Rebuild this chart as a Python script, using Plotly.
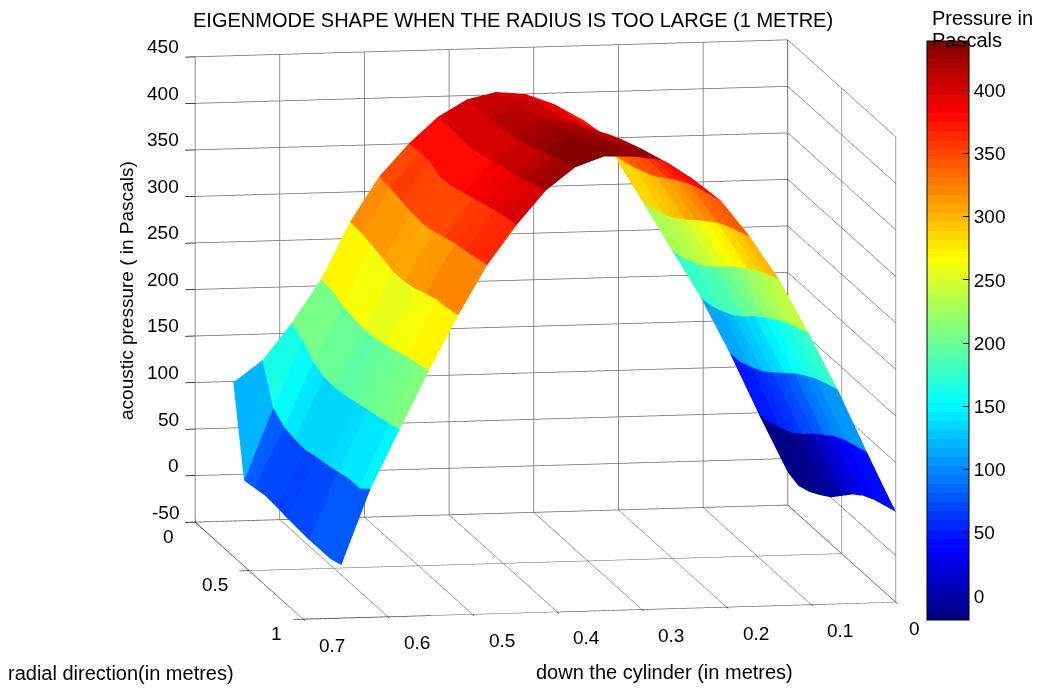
import math
import plotly.graph_objects as go

title_text = "EIGENMODE SHAPE WHEN THE RADIUS IS TOO LARGE (1 METRE)"
x_label = "down the cylinder (in metres)"
y_label = "radial direction(in metres)"
z_label = "acoustic pressure ( in Pascals)"
bar_label_lines = ["Pressure in", "Pascals"]

x_ticks = [0, 0.1, 0.2, 0.3, 0.4, 0.5, 0.6, 0.7]
y_ticks = [0, 0.5, 1]
z_ticks = [-50, 0, 50, 100, 150, 200, 250, 300, 350, 400, 450]
bar_ticks = [0, 50, 100, 150, 200, 250, 300, 350, 400]

down_cylinder = [0.655, 0.6205, 0.586, 0.5515, 0.517, 0.4825, 0.448, 0.4135, 0.379, 0.3445,
                 0.31, 0.2755, 0.241, 0.2065, 0.172, 0.1375, 0.103, 0.0685, 0.034, 0.0]
radial = [0, 0.1, 0.2, 0.3, 0.4, 0.5, 0.6, 0.7, 0.8, 0.9, 1.0]

# one row per down_cylinder position, one value per radial position
pressure = [
    [99, 4, 6, 8, 7, 5, 4, 3, 3, 3, 7],
    [122, 81, 71, 68, 67, 70, 72, 75, 78, 78, 88],
    [161, 153, 140, 134, 133, 135, 138, 141, 144, 147, 151],
    [207, 206, 200, 197, 195, 196, 199, 203, 207, 210, 213],
    [268, 267, 264, 260, 256, 256, 259, 264, 268, 269, 272],
    [316, 314, 311, 308, 307, 309, 313, 317, 319, 322, 325],
    [350, 352, 351, 345, 346, 350, 354, 358, 362, 365, 367],
    [378, 379, 377, 377, 379, 383, 387, 390, 394, 399, 403],
    [396, 397, 396, 397, 400, 403, 408, 413, 418, 423, 427],
    [403, 408, 410, 412, 417, 423, 427, 431, 434, 436, 438],
    [400, 403, 405, 408, 412, 418, 423, 428, 431, 434, 437],
    [388, 391, 393, 396, 401, 408, 414, 419, 424, 428, 432],
    [370, 372, 375, 379, 384, 391, 397, 402, 406, 409, 412],
    [333, 335, 339, 344, 350, 359, 367, 374, 379, 383, 387],
    [281, 283, 288, 294, 303, 313, 322, 331, 337, 342, 347],
    [228, 230, 236, 242, 251, 262, 272, 281, 289, 295, 300],
    [176, 177, 182, 188, 197, 208, 217, 225, 232, 237, 242],
    [115, 116, 121, 127, 136, 146, 156, 164, 171, 176, 180],
    [48, 50, 55, 60, 69, 80, 89, 98, 104, 108, 112],
    [-15, -19, -15, -8, 0, 12, 24, 33, 39, 43, 47],
]

bar_min, bar_max = -19, 439


def jet(f):
    r = min(max(min(4 * f - 1.5, -4 * f + 4.5), 0), 1)
    g = min(max(min(4 * f - 0.5, -4 * f + 3.5), 0), 1)
    b = min(max(min(4 * f + 0.5, -4 * f + 2.5), 0), 1)
    return "rgb(%d,%d,%d)" % (round(r * 255), round(g * 255), round(b * 255))


levels = 64
colorscale = []
for n in range(levels):
    c = jet((n + 0.5) / levels)
    colorscale.append([n / levels, c])
    colorscale.append([(n + 1) / levels, c])

nx, ny = len(down_cylinder), len(radial)
vx, vy, vz = [], [], []
for a in range(nx):
    for b in range(ny):
        vx.append(down_cylinder[a])
        vy.append(radial[b])
        vz.append(pressure[a][b])

ti, tj, tk, cell = [], [], [], []
for a in range(nx - 1):
    for b in range(ny - 1):
        p0 = a * ny + b
        p1 = a * ny + b + 1
        p2 = (a + 1) * ny + b
        p3 = (a + 1) * ny + b + 1
        ti += [p0, p1]
        tj += [p1, p3]
        tk += [p2, p2]
        cell += [pressure[a + 1][b], pressure[a + 1][b]]

FONT = "Liberation Sans"
BIG = dict(family=FONT, size=19, color="black")
LAB = dict(family=FONT, size=20, color="black")
fig = go.Figure(go.Mesh3d(
    x=vx, y=vy, z=vz, i=ti, j=tj, k=tk,
    intensity=cell, intensitymode="cell",
    colorscale=colorscale, cmin=bar_min, cmax=bar_max,
    flatshading=True,
    lighting=dict(ambient=1, diffuse=0, specular=0, fresnel=0, roughness=1),
    hoverinfo="skip",
    colorbar=dict(
        x=927 / 1041, xanchor="left", xpad=0,
        y=1 - 330.5 / 689, yanchor="middle", ypad=0,
        lenmode="pixels", len=579, thicknessmode="pixels", thickness=42,
        outlinecolor="black", outlinewidth=1,
        ticks="inside", ticklen=6, tickcolor="black", tickwidth=1,
        tickvals=bar_ticks, ticktext=[str(t) for t in bar_ticks],
        tickfont=BIG,
    ),
))

# dark box edges: left upright, floor outline, back upright
fig.add_trace(go.Scatter3d(
    x=[0.7, 0.7, 0.7, 0, 0, 0.7, None, 0, 0],
    y=[0, 0, 1, 1, 0, 0, None, 0, 0],
    z=[450, -50, -50, -50, -50, -50, None, -50, 450],
    mode="lines", line=dict(color="#202020", width=1.6),
    hoverinfo="skip", showlegend=False,
))

az = math.atan2(0.1788, 1.0)
el = math.asin(0.1606)
dist = 2.0
eye = dict(x=dist * math.cos(el) * math.sin(az),
           y=dist * math.cos(el) * math.cos(az),
           z=dist * math.sin(el))


def axis(rng, ticks, **kw):
    return dict(range=rng, tickvals=ticks, showticklabels=False,
                showgrid=True, gridcolor="#6a6a6a", gridwidth=1.5,
                showline=False,
                ticks="outside", ticklen=10, tickcolor="black", tickwidth=1.5,
                showbackground=False, zeroline=False, showspikes=False,
                title=dict(text=""), **kw)


scene_notes = []
for t in z_ticks:
    scene_notes.append(dict(x=0.7, y=0, z=t, text=str(t), showarrow=False, font=BIG,
                            xanchor="right", xshift=-14, yshift=10))
for t in x_ticks:
    scene_notes.append(dict(x=t, y=1, z=-50, text=str(t), showarrow=False, font=BIG,
                            xanchor="center", xshift=19 if t == 0 else 29, yshift=-26))
for t in y_ticks:
    scene_notes.append(dict(x=0.7, y=t, z=-50, text=str(t), showarrow=False, font=BIG,
                            xanchor="right", xshift=-19, yshift=-14))

page_notes = [
    dict(text=title_text, x=512.5, y=20, font=LAB),
    dict(text=x_label, x=664, y=672, font=LAB),
    dict(text=y_label, x=121, y=673, font=LAB),
    dict(text=z_label, x=127, y=291, textangle=-90, font=BIG),
    dict(text=bar_label_lines[0], x=982, y=18, font=LAB),
    dict(text=bar_label_lines[1], x=967, y=40, font=LAB),
]
for n in page_notes:
    n.update(xref="paper", yref="paper", showarrow=False, xanchor="center", yanchor="middle",
             x=n["x"] / 1041, y=1 - n["y"] / 689)

bar_left_ticks = []
for t in bar_ticks:
    yp = (620 - (t - bar_min) / (bar_max - bar_min) * 579)
    bar_left_ticks.append(dict(type="line", xref="paper", yref="paper",
                               x0=927 / 1041, x1=933 / 1041, y0=1 - yp / 689, y1=1 - yp / 689,
                               line=dict(color="black", width=1)))

fig.update_layout(
    width=1041, height=689, margin=dict(l=0, r=0, t=0, b=0),
    paper_bgcolor="white", autosize=False,
    shapes=bar_left_ticks,
    scene=dict(
        domain=dict(x=[50 / 1041, 1], y=[1 - 659 / 689, 1]),
        aspectmode="manual",
        aspectratio=dict(x=1.827, y=1.864, z=1.4306),
        camera=dict(eye=eye, center=dict(x=0, y=0, z=0), up=dict(x=0, y=0, z=1),
                    projection=dict(type="orthographic")),
        xaxis=axis([0, 0.7], x_ticks),
        yaxis=axis([0, 1], y_ticks),
        zaxis=axis([-50, 450], z_ticks),
        annotations=scene_notes,
    ),
    annotations=page_notes,
)

fig.write_html("out.html", config=dict(displayModeBar=False),
               post_script="document.body.style.margin='0';")
